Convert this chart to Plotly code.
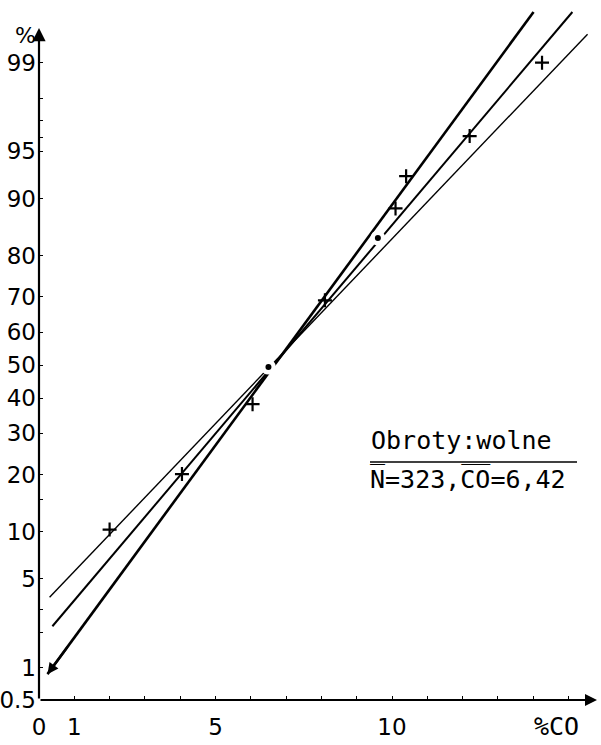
import numpy as np
import plotly.graph_objects as go
from statistics import NormalDist

_N = NormalDist()


def z(p):
    return _N.inv_cdf(p / 100.0)


# ---- data (x: %CO, y: cumulative %) ----
plus_x = [2.0, 4.05, 6.05, 8.1, 10.1, 10.4, 12.2, 14.25]
plus_p = [10.3, 20.1, 38.2, 69.1, 88.6, 92.7, 96.1, 99.0]
dot_x = [6.5, 9.6]
dot_p = [49.4, 83.6]

upper_x = [0.30, 15.54]
upper_p = [3.71, 99.455]
mid_x = [0.38, 15.11]
mid_p = [2.23, 99.67]
lower_x = [0.24, 14.01]
lower_p = [0.873, 99.67]

y_major = [0.5, 1, 5, 10, 20, 30, 40, 50, 60, 70, 80, 90, 95, 99]
y_major_text = ["0.5", "1", "5", "10", "20", "30", "40", "50", "60", "70", "80", "90", "95", "99"]
y_minor = [2, 3, 15, 96, 97, 98]
x_ticks = list(range(0, 16))
x_labels = {0: "0", 1: "1", 5: "5", 10: "10"}

FONT = "DejaVu Sans"
MONO = "DejaVu Sans Mono"
W, H = 601, 745
ML, MB = 39, 45
PX_PER_X = 35.3
PX_PER_Z = 130.0
zmin = z(0.5)
zmax = zmin + (H - MB) / PX_PER_Z
xmax = (W - ML) / PX_PER_X

fig = go.Figure()

# lines
fig.add_trace(go.Scatter(x=upper_x, y=[z(p) for p in upper_p], mode="lines",
                         line=dict(color="black", width=1.4), hoverinfo="skip"))
fig.add_trace(go.Scatter(x=lower_x, y=[z(p) for p in lower_p], mode="lines",
                         line=dict(color="black", width=2.6), hoverinfo="skip"))
fig.add_trace(go.Scatter(x=mid_x, y=[z(p) for p in mid_p], mode="lines",
                         line=dict(color="black", width=2.0), hoverinfo="skip"))

# gaps around mean dots (white halo) then dots
fig.add_trace(go.Scatter(x=dot_x, y=[z(p) for p in dot_p], mode="markers",
                         marker=dict(symbol="circle", size=15, color="white"),
                         hoverinfo="skip"))
fig.add_trace(go.Scatter(x=dot_x, y=[z(p) for p in dot_p], mode="markers",
                         marker=dict(symbol="circle", size=6, color="black"),
                         hoverinfo="skip"))
fig.add_trace(go.Scatter(x=plus_x, y=[z(p) for p in plus_p], mode="markers",
                         marker=dict(symbol="cross-thin", size=10,
                                     line=dict(color="black", width=2.2)),
                         hoverinfo="skip"))

tickvals_y = [z(p) for p in y_major] + [z(p) for p in y_minor]
ticktext_y = y_major_text + [""] * len(y_minor)

fig.update_layout(
    width=W, height=H,
    margin=dict(l=ML, r=0, t=0, b=MB, pad=0),
    paper_bgcolor="white", plot_bgcolor="white",
    showlegend=False,
    font=dict(family=FONT, size=23, color="black"),
    xaxis=dict(range=[0, xmax], showgrid=False, zeroline=False, showline=False,
               tickmode="array", tickvals=x_ticks,
               ticktext=[x_labels.get(t, "") for t in x_ticks],
               ticks="inside", ticklen=4, tickwidth=1.2, tickcolor="black",
               ticklabelstandoff=11,
               tickfont=dict(family=FONT, size=23, color="black")),
    yaxis=dict(range=[zmin, zmax], showgrid=False, zeroline=False, showline=False,
               tickmode="array", tickvals=tickvals_y, ticktext=ticktext_y,
               ticks="inside", ticklen=4, tickwidth=1.2, tickcolor="black",
               ticklabelstandoff=2,
               tickfont=dict(family=FONT, size=23, color="black")),
)

# axes with arrows
y_tip = (H - 28 - MB) / PX_PER_Z + zmin
x_tip = (597 - ML) / PX_PER_X
fig.add_annotation(x=0, y=y_tip, ax=0, ay=zmin, xref="x", yref="y", axref="x", ayref="y",
                   showarrow=True, arrowhead=2, arrowsize=1.2, arrowwidth=2.2,
                   arrowcolor="black", text="")
fig.add_annotation(x=x_tip, y=zmin, ax=0, ay=zmin, xref="x", yref="y", axref="x", ayref="y",
                   showarrow=True, arrowhead=2, arrowsize=1.2, arrowwidth=2.0,
                   arrowcolor="black", text="")
# arrowhead at the lower-left end of the thick line
lz0, lz1 = z(lower_p[0]), z(lower_p[1])
tail_x = lower_x[0] + 0.6
tail_z = lz0 + (lz1 - lz0) * (tail_x - lower_x[0]) / (lower_x[1] - lower_x[0])
fig.add_annotation(x=lower_x[0], y=lz0, ax=tail_x, ay=tail_z, xref="x", yref="y",
                   axref="x", ayref="y", showarrow=True, arrowhead=2, arrowsize=1.0,
                   arrowwidth=2.2, arrowcolor="black", text="")

# axis titles
fig.add_annotation(x=25, y=H - 35, xref="paper", yref="paper", text="%", showarrow=False,
                   font=dict(family=FONT, size=22), xanchor="center", yanchor="middle")
fig.add_annotation(x=556, y=H - 727, xref="paper", yref="paper", text="%CO", showarrow=False,
                   font=dict(family=MONO, size=25), xanchor="center", yanchor="middle")

# caption block
fig.add_annotation(x=369, y=H - 440, xref="paper", yref="paper", text="Obroty:wolne",
                   showarrow=False, font=dict(family=MONO, size=25),
                   xanchor="left", yanchor="middle")
fig.add_annotation(x=368, y=H - 479, xref="paper", yref="paper",
                   text="N\u0305=323,C\u0305O\u0305=6,42",
                   showarrow=False, font=dict(family=MONO, size=25),
                   xanchor="left", yanchor="middle")
fig.add_shape(type="line", xref="paper", yref="paper", x0=370, x1=577,
              y0=H - 462, y1=H - 462, line=dict(color="black", width=1.6))

# convert paper pixel positions above to fractions
for a in fig.layout.annotations:
    if a.xref == "paper":
        a.x = (a.x - ML) / (W - ML)
        a.y = (a.y - MB) / (H - MB)
for s in fig.layout.shapes:
    s.x0 = (s.x0 - ML) / (W - ML)
    s.x1 = (s.x1 - ML) / (W - ML)
    s.y0 = (s.y0 - MB) / (H - MB)
    s.y1 = (s.y1 - MB) / (H - MB)

fig.write_html("out.html")
